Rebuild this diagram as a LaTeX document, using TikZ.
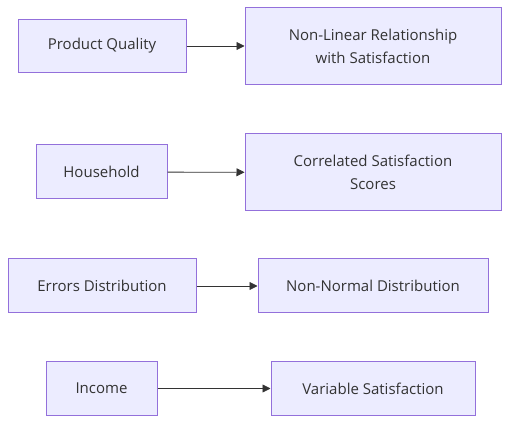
\documentclass[tikz,border=0pt]{standalone}
\usepackage{fontspec}
\setmainfont{Open Sans}
\usepackage{tikz}
\usetikzlibrary{arrows.meta}
\definecolor{boxfill}{HTML}{ECECFF}
\definecolor{boxline}{HTML}{9370DB}
\definecolor{inkgray}{HTML}{333333}
\begin{document}
\begin{tikzpicture}[x=1pt,y=-1pt,
    box/.style={draw=boxline, fill=boxfill, line width=1pt, text=inkgray,
      font=\fontsize{15}{23}\selectfont, align=center, inner sep=0pt},
    flow/.style={draw=inkgray, line width=0.8pt, -{Triangle[length=8pt,width=8pt]}}]
                \useasboundingbox (0,0) rectangle (517,430);
                % first row
                \node[box, minimum width=168pt, minimum height=53pt] (quality) at (102, 46) {Product Quality};
                \node[box, minimum width=256pt, minimum height=77pt] (nonlinear) at (373, 46) {Non-Linear Relationship\\with Satisfaction};
                \draw[flow] (quality) -- (nonlinear);

                % second row
                \node[box, minimum width=131pt, minimum height=54pt] (household) at (101.5, 172) {Household};
                \node[box, minimum width=256pt, minimum height=77pt] (correlated) at (373, 172.5) {Correlated Satisfaction\\Scores};
                \draw[flow] (household) -- (correlated);

                % third row
                \node[box, minimum width=188pt, minimum height=54pt] (errors) at (102, 286) {Errors Distribution};
                \node[box, minimum width=230pt, minimum height=54pt] (nonnormal) at (373, 286) {Non-Normal Distribution};
                \draw[flow] (errors) -- (nonnormal);

                % fourth row
                \node[box, minimum width=111pt, minimum height=53pt] (income) at (101.5, 388.5) {Income};
                \node[box, minimum width=204pt, minimum height=53pt] (variable) at (373, 388.5) {Variable Satisfaction};
                \draw[flow] (income) -- (variable);
            \end{tikzpicture}
\end{document}
